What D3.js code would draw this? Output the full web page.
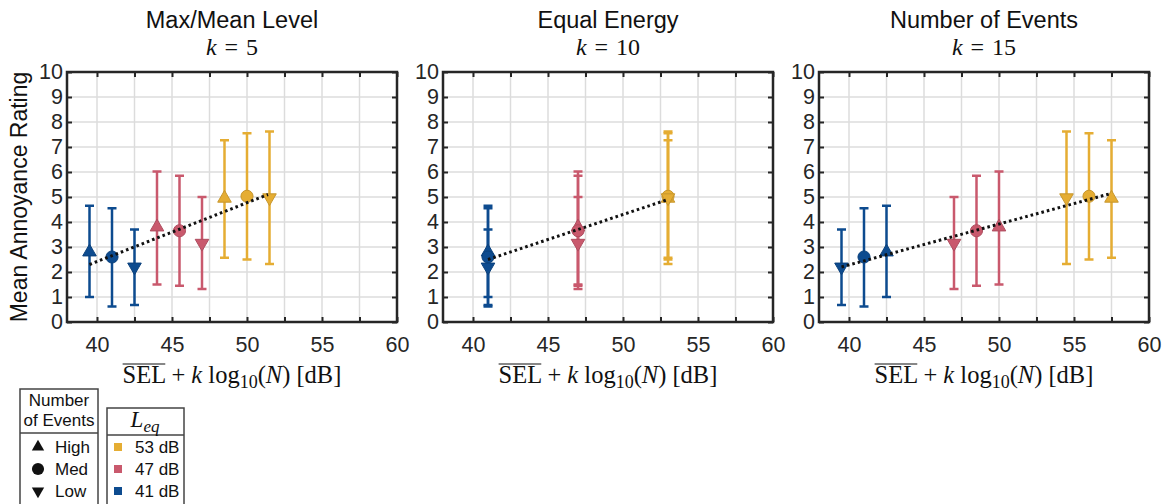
<!DOCTYPE html>
<html>
<head>
<meta charset="utf-8">
<script src="https://cdn.jsdelivr.net/npm/d3@7"></script>
<style>
  body { margin: 0; background: #fff; }
  svg { display: block; }
  .tick text { font-family: "Liberation Sans", Arial, sans-serif; font-size: 21.5px; fill: #262626; }
</style>
</head>
<body>
<svg id="chart" width="1166" height="504"></svg>
<script>
// panel titles and exponent k
const titles = ['Max/Mean Level', 'Equal Energy', 'Number of Events'];
const kValues = [5, 10, 15];

// Leq groups and event-count levels
const leqLevels = [41, 47, 53];
const leqColors = ['#0d4b8f', '#c9596d', '#e5ad33'];
const eventLevels = ['High', 'Med', 'Low'];

// mean annoyance per Leq group (rows) and event level (High, Med, Low)
const meanRating = [[2.8, 2.6, 2.2], [3.8, 3.65, 3.15], [4.95, 5.03, 4.97]];
const errLower = [[1.0, 0.62, 0.68], [1.5, 1.45, 1.32], [2.57, 2.5, 2.32]];
const errUpper = [[4.65, 4.55, 3.7], [6.02, 5.85, 5.0], [7.27, 7.55, 7.62]];

// x position (SEL + k log10 N) per panel
const xK5 = [[39.5, 41, 42.5], [44, 45.5, 47], [48.5, 50, 51.5]];
const xK10 = [[41, 41, 41], [47, 47, 47], [53, 53, 53]];
const xK15 = [[42.5, 41, 39.5], [50, 48.5, 47], [57.5, 56, 54.5]];
const panelX = [xK5, xK10, xK15];

// dotted fit line end points per panel
const fitK5 = [[39.5, 2.3], [51.4, 5.1]];
const fitK10 = [[41, 2.5], [53, 4.9]];
const fitK15 = [[39.5, 2.2], [57.4, 5.13]];
const panelFit = [fitK5, fitK10, fitK15];

const xTicks = [40, 42.5, 45, 47.5, 50, 52.5, 55, 57.5, 60];
const yTicks = [0, 1, 2, 3, 4, 5, 6, 7, 8, 9, 10];

const svg = d3.select('#chart');
const panelLeft = [67, 443, 819];
const plotTop = 72, width = 330, height = 250;
const sans = '"Liberation Sans", Arial, sans-serif';
const serif = '"Liberation Serif", "Times New Roman", serif';

const x = d3.scaleLinear().domain([38, 60]).range([0, width]);
const y = d3.scaleLinear().domain([0, 10]).range([height, 0]);

const triUp = d3.symbol().type(d3.symbolTriangle).size(80);
const circ = d3.symbol().type(d3.symbolCircle).size(115);
const markerPath = [triUp(), circ(), triUp()];
const markerRot = [0, 0, 180];

panelLeft.forEach((left, p) => {
  const g = svg.append('g').attr('transform', `translate(${left},${plotTop})`);

  // grid
  g.append('g').selectAll('line').data(xTicks).join('line')
    .attr('x1', d => x(d)).attr('x2', d => x(d))
    .attr('y1', 0).attr('y2', height)
    .attr('stroke', '#dcdcdc').attr('stroke-width', 1.5);
  g.append('g').selectAll('line').data(yTicks).join('line')
    .attr('x1', 0).attr('x2', width)
    .attr('y1', d => y(d)).attr('y2', d => y(d))
    .attr('stroke', '#dcdcdc').attr('stroke-width', 1.5);

  // axes with inward ticks
  const fmtX = d => (d % 5 === 0 ? d : '');
  const bottom = g.append('g').attr('transform', `translate(0,${height})`)
    .call(d3.axisBottom(x).tickValues(xTicks).tickFormat(fmtX).tickSizeInner(-5).tickSizeOuter(0).tickPadding(15));
  const topAx = g.append('g')
    .call(d3.axisTop(x).tickValues(xTicks).tickFormat('').tickSizeInner(-5).tickSizeOuter(0));
  const leftAx = g.append('g')
    .call(d3.axisLeft(y).tickValues(yTicks).tickSizeInner(-5).tickSizeOuter(0).tickPadding(10));
  const rightAx = g.append('g').attr('transform', `translate(${width},0)`)
    .call(d3.axisRight(y).tickValues(yTicks).tickFormat('').tickSizeInner(-5).tickSizeOuter(0));
  [bottom, topAx, leftAx, rightAx].forEach(a => {
    a.select('.domain').remove();
    a.selectAll('.tick line').attr('stroke', '#262626').attr('stroke-width', 2);
  });
  leftAx.selectAll('.tick text').attr('x', -4);

  g.append('rect').attr('width', width).attr('height', height)
    .attr('fill', 'none').attr('stroke', '#262626').attr('stroke-width', 2.5);

  // error bars and markers
  const xs = panelX[p];
  leqLevels.forEach((lv, i) => {
    const col = leqColors[i];
    eventLevels.forEach((ev, j) => {
      const cx = x(xs[i][j]);
      const eb = g.append('g').attr('stroke', col).attr('stroke-width', 2.5);
      eb.append('line').attr('x1', cx).attr('x2', cx)
        .attr('y1', y(errLower[i][j])).attr('y2', y(errUpper[i][j]));
      [errLower[i][j], errUpper[i][j]].forEach(v => {
        eb.append('line').attr('x1', cx - 4.5).attr('x2', cx + 4.5)
          .attr('y1', y(v)).attr('y2', y(v));
      });
    });
    eventLevels.forEach((ev, j) => {
      g.append('path')
        .attr('d', markerPath[j])
        .attr('transform', `translate(${x(xs[i][j])},${y(meanRating[i][j])}) rotate(${markerRot[j]})`)
        .attr('fill', col)
        .attr('stroke', d3.color(col).darker(0.4))
        .attr('stroke-width', 1);
    });
  });

  // fit line
  const fit = panelFit[p];
  g.append('path')
    .attr('d', d3.line().x(d => x(d[0])).y(d => y(d[1]))(fit))
    .attr('fill', 'none').attr('stroke', '#111').attr('stroke-width', 3)
    .attr('stroke-dasharray', '2.6,3');

  // titles
  g.append('text').attr('x', width / 2).attr('y', -44)
    .attr('text-anchor', 'middle').attr('font-family', sans).attr('font-size', 23.5)
    .attr('fill', '#111').text(titles[p]);
  const kt = g.append('text').attr('x', width / 2).attr('y', -17)
    .attr('text-anchor', 'middle').attr('font-family', serif).attr('font-size', 24)
    .attr('fill', '#111');
  kt.append('tspan').attr('font-style', 'italic').text('k');
  kt.append('tspan').text('\u2004=\u2004' + kValues[p]);

  // x label
  const xl = g.append('text').attr('x', width / 2).attr('y', height + 61)
    .attr('text-anchor', 'middle').attr('font-family', serif).attr('font-size', 24.5)
    .attr('fill', '#111');
  xl.append('tspan').text('SEL');
  xl.append('tspan').text(' + ');
  xl.append('tspan').attr('font-style', 'italic').text('k');
  xl.append('tspan').text(' log');
  xl.append('tspan').attr('font-size', 18).attr('dy', 5).text('10');
  xl.append('tspan').attr('dy', -5).text('(');
  xl.append('tspan').attr('font-style', 'italic').text('N');
  xl.append('tspan').text(') [dB]');
  const node = xl.node();
  const s0 = node.getStartPositionOfChar(0), s2 = node.getEndPositionOfChar(2);
  g.append('line').attr('x1', s0.x).attr('x2', s2.x)
    .attr('y1', height + 61 - 19).attr('y2', height + 61 - 19)
    .attr('stroke', '#111').attr('stroke-width', 1.2);
});

// y label
svg.append('text')
  .attr('transform', `translate(27,${plotTop + height / 2}) rotate(-90)`)
  .attr('text-anchor', 'middle').attr('font-family', sans).attr('font-size', 23)
  .attr('fill', '#111').text('Mean Annoyance Rating');

// legend: number of events
const lg = svg.append('g');
lg.append('rect').attr('x', 20).attr('y', 389).attr('width', 78).attr('height', 130)
  .attr('fill', '#fff').attr('stroke', '#444').attr('stroke-width', 1.5);
lg.append('line').attr('x1', 20).attr('x2', 98).attr('y1', 433).attr('y2', 433)
  .attr('stroke', '#444').attr('stroke-width', 1.5);
['Number', 'of Events'].forEach((t, i) => {
  lg.append('text').attr('x', 59).attr('y', 406 + i * 20).attr('text-anchor', 'middle')
    .attr('font-family', sans).attr('font-size', 17).attr('fill', '#111').text(t);
});
const legSym = [d3.symbol().type(d3.symbolTriangle).size(66)(), d3.symbol().type(d3.symbolCircle).size(115)(), d3.symbol().type(d3.symbolTriangle).size(66)()];
eventLevels.forEach((ev, j) => {
  const yy = 447 + j * 22;
  lg.append('path').attr('d', legSym[j])
    .attr('transform', `translate(38,${yy}) rotate(${markerRot[j]})`).attr('fill', '#111');
  lg.append('text').attr('x', 55).attr('y', yy).attr('dy', '0.36em')
    .attr('font-family', sans).attr('font-size', 17).attr('fill', '#111').text(ev);
});

// legend: Leq
const lq = svg.append('g');
lq.append('rect').attr('x', 107).attr('y', 408).attr('width', 77).attr('height', 110)
  .attr('fill', '#fff').attr('stroke', '#444').attr('stroke-width', 1.5);
lq.append('line').attr('x1', 107).attr('x2', 184).attr('y1', 435).attr('y2', 435)
  .attr('stroke', '#444').attr('stroke-width', 1.5);
const lt = lq.append('text').attr('x', 145).attr('y', 427).attr('text-anchor', 'middle')
  .attr('font-family', serif).attr('font-style', 'italic').attr('font-size', 23).attr('fill', '#111');
lt.append('tspan').text('L');
lt.append('tspan').attr('font-size', 17).attr('dy', 5).text('eq');
[2, 1, 0].forEach((i, r) => {
  const yy = 447 + r * 22;
  lq.append('rect').attr('x', 114).attr('y', yy - 4).attr('width', 8).attr('height', 8)
    .attr('fill', leqColors[i]);
  lq.append('text').attr('x', 135).attr('y', yy).attr('dy', '0.36em')
    .attr('font-family', sans).attr('font-size', 17).attr('fill', '#111').text(leqLevels[i] + ' dB');
});
</script>
</body>
</html>
